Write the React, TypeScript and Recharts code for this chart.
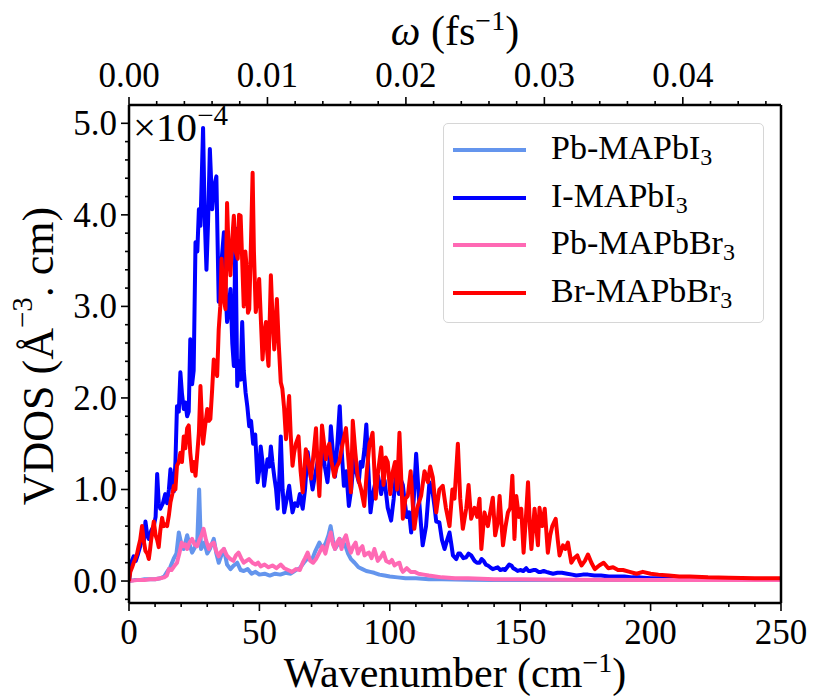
import React from 'react';
import { LineChart, Line, XAxis, YAxis, Label } from 'recharts';

const FONT = '"Liberation Serif", "Times New Roman", serif';

// VDOS, in units of 1e-4 Å^-3·cm, as [wavenumber (cm^-1), value]
const pbMAPbI3: [number, number][] = [
  [0, 0], [2, 0.01], [4, 0.01], [6, 0.02], [8, 0.02], [10, 0.02], [12, 0.03], [13.5, 0.05], [14.6, 0.1], [15.8, 0.15],
  [17.2, 0.25], [18.2, 0.3], [19.1, 0.53], [20.1, 0.4], [21.0, 0.35], [22.3, 0.5], [23.2, 0.4], [24.2, 0.31], [25.5, 0.38],
  [26.2, 0.45], [26.9, 1.0], [27.6, 0.35], [28.9, 0.42], [30.0, 0.3], [31.0, 0.35], [32.5, 0.46], [33.5, 0.3], [34.4, 0.2],
  [35.4, 0.28], [36.4, 0.35], [37.6, 0.18], [38.9, 0.13], [40.2, 0.17], [41.5, 0.2], [42.8, 0.12], [44.0, 0.11], [45.5, 0.13],
  [47, 0.08], [48.5, 0.1], [50, 0.07], [52, 0.08], [54, 0.06], [56, 0.08], [58, 0.07], [60, 0.09], [62, 0.08], [64, 0.12],
  [65.5, 0.14], [67, 0.2], [68.5, 0.25], [70, 0.22], [71.5, 0.33], [73, 0.42], [74.2, 0.35], [75.5, 0.42], [76.5, 0.5],
  [77.3, 0.6], [78.2, 0.45], [79.0, 0.35], [80.0, 0.4], [80.8, 0.46], [81.8, 0.38], [82.8, 0.4], [84, 0.3], [85.1, 0.24],
  [86.5, 0.2], [88, 0.15], [89.5, 0.13], [91, 0.11], [92.5, 0.1], [94, 0.09], [96, 0.07], [98, 0.06], [100, 0.05], [103, 0.04],
  [106, 0.03], [110, 0.03], [115, 0.02], [120, 0.02], [130, 0.015], [140, 0.01], [150, 0.01], [170, 0.01], [200, 0.01], [250, 0.01],
];

const iMAPbI3: [number, number][] = [
  [0, 0], [0.8, 0.2], [1.8, 0.27], [2.6, 0.22], [3.5, 0.3], [4.3, 0.38], [5.0, 0.5], [5.7, 0.42], [6.3, 0.65], [7.0, 0.5],
  [7.6, 0.46], [8.5, 0.55], [9.5, 0.6], [10.2, 0.7], [10.8, 1.17], [11.4, 0.85], [12.0, 0.79], [13.0, 0.85], [13.9, 0.95],
  [14.6, 0.85], [15.3, 1.0], [15.9, 1.22], [16.6, 1.05], [17.2, 0.98], [17.8, 1.3], [18.4, 1.91], [19.1, 1.85], [19.7, 2.28],
  [20.3, 2.05], [21.0, 1.88], [21.6, 1.95], [22.3, 1.8], [22.9, 1.85], [23.5, 2.64], [24.2, 2.15], [24.8, 2.3], [25.5, 3.7],
  [26.2, 3.6], [26.8, 4.06], [27.4, 3.88], [28.4, 4.95], [29.0, 4.0], [29.7, 3.4], [30.3, 3.9], [31.0, 4.72], [31.6, 4.3],
  [31.9, 4.06], [32.6, 4.3], [33.5, 4.42], [34.4, 3.05], [35.2, 3.4], [36.4, 3.81], [37.0, 3.2], [37.6, 2.83], [38.3, 3.0],
  [38.9, 3.19], [39.6, 2.6], [40.2, 2.35], [40.8, 3.85], [41.5, 2.13], [42.2, 2.4], [42.8, 2.2], [43.4, 2.83], [44.0, 2.3],
  [44.7, 2.06], [45.4, 1.9], [46.1, 1.69], [46.8, 1.75], [47.6, 1.5], [48.4, 1.6], [49.3, 1.08], [49.9, 1.2], [50.5, 1.47],
  [51.2, 1.3], [51.8, 1.04], [52.5, 1.2], [53.1, 1.33], [53.8, 1.25], [54.4, 1.47], [55.0, 1.3], [55.7, 1.14], [56.4, 1.0],
  [57.0, 0.79], [57.6, 1.1], [58.2, 1.58], [58.9, 1.0], [59.5, 0.75], [60.5, 0.9], [61.4, 1.04], [62.0, 0.9], [62.7, 0.75],
  [63.6, 0.85], [64.6, 0.82], [65.5, 0.95], [66.6, 0.79], [67.5, 1.0], [68.5, 1.41], [69.4, 1.2], [70.4, 1.0], [71.3, 1.15],
  [72.3, 1.3], [73.2, 1.2], [74.2, 1.44], [75.1, 1.25], [76.1, 1.08], [76.8, 1.3], [77.4, 1.69], [78.2, 1.4], [79.0, 1.14],
  [79.9, 1.5], [80.8, 1.91], [81.6, 1.4], [82.4, 1.04], [83.3, 1.2], [84.3, 0.82], [85.2, 1.0], [86.2, 1.33], [87.1, 1.2],
  [88.1, 1.08], [88.8, 1.3], [89.5, 1.25], [90.3, 1.45], [91.0, 1.71], [91.8, 1.2], [92.6, 0.75], [93.5, 0.95], [94.5, 1.08],
  [95.5, 1.15], [96.7, 0.95], [97.4, 1.1], [98.0, 1.1], [98.6, 0.95], [99.2, 0.8], [100.5, 0.66], [101.5, 0.9], [102.4, 1.19],
  [103.5, 0.95], [104.3, 1.1], [105.0, 1.05], [105.8, 0.85], [106.5, 0.7], [107.4, 0.75], [108.2, 0.53], [109.2, 0.9],
  [110.1, 1.39], [111.2, 0.9], [112.0, 0.6], [112.6, 0.39], [113.3, 0.5], [113.9, 0.6], [115.2, 1.08], [116.5, 0.95],
  [117.2, 0.8], [117.8, 0.65], [119.0, 0.64], [120.0, 0.45], [121.0, 0.35], [122.0, 0.45], [122.9, 0.53], [123.6, 0.4],
  [124.2, 0.28], [125.5, 0.24], [126.3, 0.3], [127.0, 0.3], [128.2, 0.25], [129.3, 0.26], [130.2, 0.3], [131.2, 0.28],
  [132.5, 0.22], [133.4, 0.2], [134.4, 0.2], [135.2, 0.24], [136.0, 0.22], [136.8, 0.18], [137.6, 0.17], [138.5, 0.15],
  [139.5, 0.13], [140.5, 0.14], [141.4, 0.15], [142.4, 0.12], [143.4, 0.13], [144.2, 0.12], [145.0, 0.15], [145.8, 0.18],
  [146.6, 0.17], [147.3, 0.14], [148.0, 0.13], [149.0, 0.11], [150.0, 0.12], [151.2, 0.11], [152.3, 0.14], [153.2, 0.11],
  [154.0, 0.11], [155.0, 0.12], [156.0, 0.12], [157.0, 0.1], [158.0, 0.1], [159.0, 0.11], [160.0, 0.1], [161.2, 0.09],
  [162.6, 0.08], [164.3, 0.09], [166.0, 0.09], [168.0, 0.08], [170.0, 0.07], [171.5, 0.06], [174.0, 0.07], [176.0, 0.07],
  [178.5, 0.06], [181.0, 0.06], [184.0, 0.05], [187.0, 0.05], [190.0, 0.05], [193.0, 0.04], [196.0, 0.04], [200.0, 0.03],
  [205.0, 0.03], [210.0, 0.02], [218.0, 0.02], [225.0, 0.02], [235.0, 0.015], [250.0, 0.01],
];

const pbMAPbBr3: [number, number][] = [
  [0, 0], [3, 0.01], [6, 0.01], [8, 0.02], [10, 0.02], [12, 0.03], [13.5, 0.04], [14.5, 0.06], [15.3, 0.13], [16.3, 0.12],
  [17.3, 0.16], [18.4, 0.2], [19.3, 0.3], [20.2, 0.42], [21.0, 0.38], [21.6, 0.4], [22.3, 0.35], [23.2, 0.42], [24.2, 0.46],
  [25.1, 0.4], [26.1, 0.38], [27.0, 0.45], [27.8, 0.5], [28.6, 0.57], [29.5, 0.45], [30.6, 0.35], [31.5, 0.4], [32.5, 0.42],
  [33.4, 0.33], [34.4, 0.27], [35.3, 0.32], [36.4, 0.35], [37.5, 0.28], [38.9, 0.24], [40.0, 0.22], [41.0, 0.28], [42.0, 0.31],
  [43.0, 0.25], [44.0, 0.2], [45.0, 0.22], [46.0, 0.24], [47.3, 0.2], [48.5, 0.18], [49.5, 0.2], [50.5, 0.16], [52, 0.18],
  [53.5, 0.15], [55, 0.17], [56.5, 0.14], [58.2, 0.18], [59.5, 0.14], [61, 0.12], [62.5, 0.1], [64, 0.13], [65.5, 0.12],
  [66.6, 0.2], [67.5, 0.25], [68.5, 0.31], [69.5, 0.22], [70.6, 0.2], [71.7, 0.24], [72.8, 0.3], [74.2, 0.38], [75.3, 0.3],
  [76.3, 0.42], [77.4, 0.53], [78.2, 0.4], [79.0, 0.35], [79.8, 0.42], [80.6, 0.46], [81.5, 0.35], [82.3, 0.45], [83.2, 0.5],
  [84.2, 0.38], [85.1, 0.31], [86.0, 0.38], [86.9, 0.42], [87.8, 0.3], [88.6, 0.35], [89.5, 0.38], [90.3, 0.28], [91.2, 0.3],
  [92.0, 0.31], [93.0, 0.25], [94.1, 0.35], [95.4, 0.22], [96.5, 0.26], [97.6, 0.31], [98.6, 0.22], [99.9, 0.2], [100.8, 0.23],
  [101.8, 0.17], [102.8, 0.19], [103.7, 0.2], [104.4, 0.13], [105.0, 0.1], [106.5, 0.14], [108, 0.1], [109.5, 0.1], [111, 0.08],
  [113, 0.07], [115, 0.06], [117.5, 0.05], [120, 0.04], [125, 0.03], [130, 0.03], [140, 0.02], [150, 0.02], [170, 0.015],
  [200, 0.01], [250, 0.01],
];

const brMAPbBr3: [number, number][] = [
  [0, 0], [0.5, 0.1], [1.2, 0.15], [1.8, 0.2], [2.5, 0.25], [3.1, 0.3], [3.7, 0.38], [4.3, 0.45], [5.0, 0.6], [5.6, 0.45],
  [6.3, 0.33], [7.0, 0.3], [7.6, 0.24], [8.1, 0.35], [8.5, 0.45], [9.0, 0.55], [9.5, 0.65], [10.2, 0.5], [10.8, 0.45],
  [11.4, 0.37], [12.0, 0.55], [12.7, 0.69], [13.3, 0.6], [13.9, 0.62], [14.6, 0.6], [15.3, 0.72], [15.9, 0.86], [16.6, 0.95],
  [17.2, 1.04], [17.8, 1.0], [18.4, 1.26], [19.1, 1.3], [19.7, 1.4], [20.3, 1.3], [21.0, 1.58], [21.6, 1.45], [22.3, 1.67],
  [22.9, 1.7], [23.5, 1.4], [24.2, 1.2], [24.8, 1.3], [25.5, 1.15], [26.2, 1.4], [26.8, 1.62], [27.4, 2.13], [27.9, 1.8],
  [28.4, 1.5], [29.2, 1.7], [30.0, 1.88], [30.6, 1.75], [31.2, 1.77], [31.9, 2.1], [32.5, 2.42], [33.2, 2.3], [33.8, 2.24],
  [34.4, 2.75], [35.0, 3.0], [35.5, 3.52], [36.2, 3.1], [37.0, 2.97], [37.6, 4.13], [38.2, 3.6], [38.9, 3.34], [39.5, 3.7],
  [40.2, 3.99], [40.9, 3.6], [41.7, 3.52], [42.2, 4.0], [42.8, 3.99], [43.4, 3.5], [44.0, 3.0], [44.6, 3.6], [45.3, 3.37],
  [45.6, 2.93], [46.1, 2.97], [46.6, 3.5], [47.4, 4.46], [47.9, 3.6], [48.6, 2.94], [49.3, 3.1], [49.9, 3.3], [50.5, 2.9],
  [51.2, 2.42], [51.8, 2.7], [52.5, 2.83], [53.0, 2.5], [53.5, 2.35], [54.0, 2.9], [54.4, 3.34], [55.0, 2.9], [55.7, 2.53],
  [56.2, 2.8], [56.7, 3.08], [57.4, 2.6], [58.2, 2.17], [58.8, 2.1], [59.5, 1.88], [60.2, 1.55], [60.8, 1.8], [61.4, 2.02],
  [62.0, 1.6], [62.7, 1.26], [63.3, 1.4], [64.0, 1.5], [65.0, 1.58], [65.8, 1.2], [66.6, 0.97], [67.2, 1.2], [67.8, 1.44],
  [68.8, 1.3], [69.8, 1.12], [70.8, 1.4], [71.7, 1.67], [72.4, 1.2], [73.0, 0.93], [73.5, 1.3], [74.0, 1.7], [74.8, 1.5],
  [75.5, 1.33], [76.2, 1.45], [76.8, 1.5], [77.7, 1.3], [78.7, 1.14], [79.7, 1.25], [80.6, 1.3], [81.9, 1.5], [83.2, 1.67],
  [84.2, 1.3], [85.1, 0.97], [85.5, 1.4], [85.8, 1.75], [86.8, 1.4], [87.7, 1.14], [89.0, 1.0], [90.2, 0.82], [91.2, 1.2],
  [92.2, 1.5], [92.8, 1.55], [93.4, 1.62], [94.1, 1.2], [94.6, 0.9], [95.4, 1.17], [96.7, 1.46], [97.6, 1.05], [98.4, 1.35],
  [99.2, 1.3], [100.2, 0.95], [101.1, 1.19], [102.0, 1.3], [102.8, 1.0], [103.7, 1.62], [105.0, 0.68], [106.0, 0.9],
  [106.9, 0.93], [108.0, 1.2], [109.4, 0.57], [110.5, 0.8], [112.0, 0.93], [113.3, 1.2], [114.6, 1.08], [115.5, 1.25],
  [116.5, 1.13], [117.8, 0.75], [119.0, 1.0], [120.3, 1.04], [121.5, 0.8], [122.9, 0.6], [124.0, 1.0], [124.8, 0.9],
  [126.1, 1.5], [127.0, 0.9], [128.0, 0.57], [129.3, 0.79], [130.2, 1.05], [131.2, 0.68], [132.5, 0.8], [133.5, 0.7],
  [134.4, 0.9], [135.1, 0.35], [136.3, 0.75], [137.6, 0.6], [138.5, 0.75], [139.5, 0.91], [140.4, 0.5], [141.4, 0.64],
  [142.1, 0.93], [143.4, 0.39], [144.4, 0.6], [145.3, 0.75], [146.2, 0.8], [147.0, 1.15], [147.8, 0.46], [148.5, 0.93],
  [149.5, 0.7], [150.4, 0.79], [151.3, 0.31], [152.2, 0.7], [153.0, 1.08], [153.7, 0.6], [154.3, 0.35], [155.5, 0.79],
  [156.8, 0.39], [157.4, 0.8], [158.4, 0.6], [159.4, 0.79], [160.6, 0.31], [161.5, 0.5], [162.3, 0.6], [163.6, 0.68],
  [164.4, 0.45], [165.1, 0.28], [166.4, 0.39], [167.3, 0.35], [168.3, 0.42], [169.6, 0.2], [170.7, 0.25], [171.9, 0.28],
  [172.7, 0.22], [173.5, 0.17], [174.8, 0.22], [176.0, 0.29], [177.3, 0.2], [178.6, 0.13], [180.3, 0.17], [182.0, 0.2],
  [183.8, 0.14], [185.6, 0.15], [187.5, 0.12], [189.4, 0.12], [192.0, 0.1], [194.6, 0.08], [197.0, 0.1], [200.0, 0.08],
  [203.0, 0.07], [207.0, 0.06], [211.0, 0.05], [215.0, 0.05], [222.0, 0.04], [230.0, 0.035], [240.0, 0.03], [250.0, 0.03],
];

const xMajorTicks = [0, 50, 100, 150, 200, 250];
const yMajorTicks = [0, 1, 2, 3, 4, 5];
const omegaMajorTicks = [0, 0.01, 0.02, 0.03, 0.04];

// minor ticks (matplotlib style)
const xTicks = Array.from({ length: 26 }, (_, i) => i * 10);
const yTicks = Array.from({ length: 27 }, (_, i) => Math.round((i * 0.2 - 0.2) * 10) / 10);
const omegaTicks = Array.from({ length: 24 }, (_, i) => (i * 2) / 1000);

// top axis: angular frequency omega = 2*pi*c*wavenumber, c in cm/fs
const OMEGA_MAX = 250 * 2 * Math.PI * 2.99792458e-5;

const series = [
  { key: 'pbI', label: 'Pb-MAPbI', color: '#6495ED', data: pbMAPbI3 },
  { key: 'iI', label: 'I-MAPbI', color: '#0000FF', data: iMAPbI3 },
  { key: 'pbBr', label: 'Pb-MAPbBr', color: '#FF69B4', data: pbMAPbBr3 },
  { key: 'brBr', label: 'Br-MAPbBr', color: '#FF0000', data: brMAPbBr3 },
];

// empty series that only gives the top (omega) axis its scale
const omegaAnchor = [{ w: 0, y: null }, { w: OMEGA_MAX, y: null }];

const isMajor = (v: number, majors: number[]) => majors.some(m => Math.abs(m - v) < 1e-9);

const BottomTick = ({ x, y, payload }: any) => {
  const major = isMajor(payload.value, xMajorTicks);
  return (
    <g>
      <line x1={x} x2={x} y1={y} y2={y + (major ? 8 : 4)} stroke="#000" strokeWidth={1.6} />
      {major && (
        <text x={x} y={y + 41} textAnchor="middle" fontSize={35} fontFamily={FONT} fill="#000">
          {payload.value}
        </text>
      )}
    </g>
  );
};

const TopTick = ({ x, y, payload }: any) => {
  const major = isMajor(payload.value, omegaMajorTicks);
  return (
    <g>
      <line x1={x} x2={x} y1={y} y2={y - (major ? 8 : 4)} stroke="#000" strokeWidth={1.6} />
      {major && (
        <text x={x} y={y - 18} textAnchor="middle" fontSize={35} fontFamily={FONT} fill="#000">
          {payload.value.toFixed(2)}
        </text>
      )}
    </g>
  );
};

const LeftTick = ({ x, y, payload }: any) => {
  const major = isMajor(payload.value, yMajorTicks);
  return (
    <g>
      <line x1={x} x2={x - (major ? 8 : 4)} y1={y} y2={y} stroke="#000" strokeWidth={1.6} />
      {major && (
        <text x={x - 12} y={y + 12} textAnchor="end" fontSize={35} fontFamily={FONT} fill="#000">
          {payload.value.toFixed(1)}
        </text>
      )}
    </g>
  );
};

function LegendBox() {
  return (
    <div
      style={{
        position: 'absolute', left: 443, top: 123, width: 321, height: 200, boxSizing: 'border-box',
        border: '1px solid #d6d6d6', borderRadius: 5, background: 'rgba(255,255,255,0.8)',
        fontFamily: FONT, fontSize: 34, color: '#000',
      }}
    >
      {series.map((s, i) => (
        <div key={s.key} style={{ position: 'absolute', left: 0, top: 26 + i * 47.5, height: 0 }}>
          <div style={{ position: 'absolute', left: 9, top: -2, width: 73, height: 4, background: s.color }} />
          <div style={{ position: 'absolute', left: 107, top: -21, whiteSpace: 'nowrap', lineHeight: '38px' }}>
            {s.label}
            <sub style={{ fontSize: 24, verticalAlign: -6 }}>3</sub>
          </div>
        </div>
      ))}
    </div>
  );
}

export default function App() {
  return (
    <div style={{ position: 'absolute', left: 0, top: 0, width: 814, height: 700, background: '#fff' }}>
      <LineChart width={814} height={700} margin={{ top: 0, right: 0, bottom: 0, left: 0 }}>
        <XAxis
          type="number"
          dataKey="x"
          domain={[0, 250]}
          ticks={xTicks}
          interval={0}
          allowDataOverflow
          height={97}
          tickSize={0}
          tickMargin={0}
          tickLine={false}
          axisLine={{ stroke: '#000', strokeWidth: 2.5 }}
          tick={<BottomTick />}
        >
          <Label
            content={() => (
              <text x={455} y={687} textAnchor="middle" fontSize={42} fontFamily={FONT} fill="#000">
                Wavenumber (cm<tspan dy={-15} fontSize={28}>−1</tspan><tspan dy={15}>)</tspan>
              </text>
            )}
          />
        </XAxis>
        <XAxis
          xAxisId="top"
          orientation="top"
          type="number"
          dataKey="w"
          domain={[0, OMEGA_MAX]}
          ticks={omegaTicks}
          interval={0}
          allowDataOverflow
          height={105}
          tickSize={0}
          tickMargin={0}
          tickLine={false}
          axisLine={{ stroke: '#000', strokeWidth: 2.5 }}
          tick={<TopTick />}
        >
          <Label
            content={() => (
              <text x={455} y={45} textAnchor="middle" fontSize={42} fontFamily={FONT} fill="#000">
                <tspan fontStyle="italic">ω</tspan> (fs<tspan dy={-15} fontSize={28}>−1</tspan><tspan dy={15}>)</tspan>
              </text>
            )}
          />
        </XAxis>
        <YAxis
          type="number"
          domain={[-0.24, 5.2]}
          ticks={yTicks}
          interval={0}
          allowDataOverflow
          width={129}
          tickSize={0}
          tickMargin={0}
          tickLine={false}
          axisLine={{ stroke: '#000', strokeWidth: 2.5 }}
          tick={<LeftTick />}
        >
          <Label
            content={() => (
              <g>
                <text
                  x={38}
                  y={356}
                  transform="rotate(-90, 38, 356)"
                  textAnchor="middle"
                  dominantBaseline="central"
                  fontSize={44}
                  fontFamily={FONT}
                  fill="#000"
                >
                  VDOS (Å<tspan dy={-16} fontSize={29}>−3</tspan><tspan dy={16}>.  cm)</tspan>
                </text>
                <text x={133} y={141} fontSize={41} fontFamily={FONT} fill="#000">
                  ×10<tspan dy={-16} fontSize={29}>−4</tspan>
                </text>
              </g>
            )}
          />
        </YAxis>
        <YAxis
          yAxisId="right"
          orientation="right"
          domain={[0, 1]}
          width={33}
          tick={false}
          tickLine={false}
          axisLine={{ stroke: '#000', strokeWidth: 2.5 }}
        />
        <Line
          xAxisId="top"
          data={omegaAnchor}
          dataKey="y"
          stroke="none"
          dot={false}
          activeDot={false}
          legendType="none"
          isAnimationActive={false}
        />
        {series.map(s => (
          <Line
            key={s.key}
            data={s.data.map(([x, y]) => ({ x, y }))}
            dataKey="y"
            type="linear"
            stroke={s.color}
            strokeWidth={4}
            strokeLinejoin="round"
            dot={false}
            activeDot={false}
            isAnimationActive={false}
          />
        ))}
      </LineChart>
      <LegendBox />
    </div>
  );
}
